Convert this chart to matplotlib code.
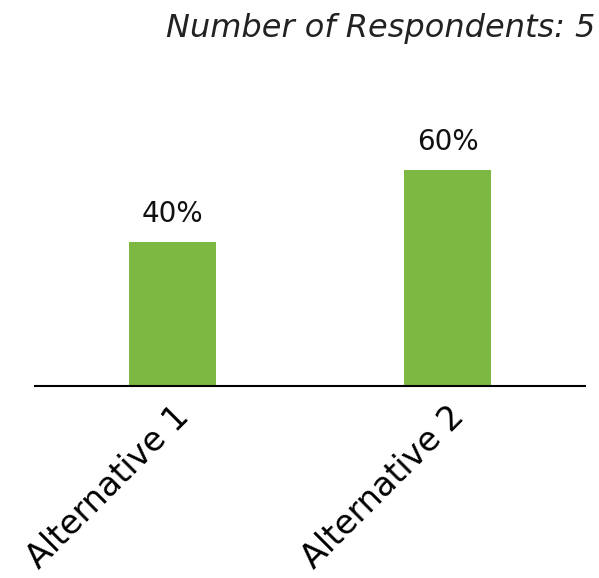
import matplotlib
matplotlib.use("Agg")
import matplotlib.pyplot as plt

categories = ["Alternative 1", "Alternative 2"]
values = [40, 60]
labels = ["40%", "60%"]
title = "Number of Respondents: 5"

plt.rcParams['font.family'] = ['DejaVu Sans']
fig = plt.figure(figsize=(5.99, 5.78), dpi=100)
ax = fig.add_axes([35/599, 1-386/578, 550/599, (386-60)/578])
x = list(range(len(categories)))
bars = ax.bar(x, values, width=0.313, color="#7DB843")
for xi, v, l in zip(x, values, labels):
    ax.text(xi, v + 4, l, ha="center", va="bottom", fontsize=20, color="#111111")
ax.set_xlim(-0.5, 1.5)
ax.set_ylim(0, (386-60)/3.6)
ax.set_xticks(x)
ax.set_xticklabels(categories, rotation=45, ha="right", va="top",
                   rotation_mode="anchor", fontsize=24)
ax.tick_params(axis="x", length=0, pad=10)
ax.set_yticks([])
for s in ["top", "right", "left"]:
    ax.spines[s].set_visible(False)
ax.spines["bottom"].set_linewidth(1.5)
fig.text(595/599, 1-28/578, title, ha="right", va="center",
         fontsize=23, style="italic", color="#222222")
fig.savefig("out.png", dpi=100)
